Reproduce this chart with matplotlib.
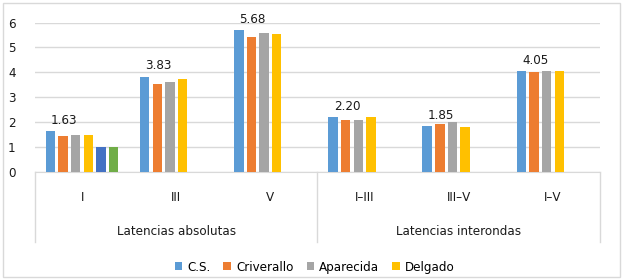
import matplotlib.pyplot as plt
from matplotlib.patches import Rectangle
from matplotlib.lines import Line2D

plt.rcParams['font.family'] = ['DejaVu Sans']
plt.rcParams['font.stretch'] = 'condensed'

categorias = ['I', 'III', 'V', 'I\u2013III', 'III\u2013V', 'I\u2013V']
grupos = ['Latencias absolutas', 'Latencias interondas']
cs = [1.63, 3.83, 5.68, 2.20, 1.85, 4.05]
criverallo = [1.43, 3.55, 5.40, 2.10, 1.92, 4.02]
aparecida = [1.48, 3.60, 5.58, 2.10, 2.00, 4.07]
delgado = [1.48, 3.72, 5.52, 2.22, 1.80, 4.05]
serie5 = [1.0, None, None, None, None, None]
serie6 = [1.0, None, None, None, None, None]

series = [cs, criverallo, aparecida, delgado, serie5, serie6]
nombres = ['C.S.', 'Criverallo', 'Aparecida', 'Delgado', None, None]
colores = ['#5B9BD5', '#ED7D31', '#A5A5A5', '#FFC000', '#4472C4', '#70AD47']

fs = 9.5
tc = '#1a1a1a'

fig = plt.figure(figsize=(6.23, 2.80), dpi=100)
ax = fig.add_axes([35/623, 108/280, 565/623, 149.5/280])

paso = 0.134
ancho = 0.10
handles = []
for k, (vals, nom, col) in enumerate(zip(series, nombres, colores)):
    xs = [i + (k - 2.5) * paso for i, v in enumerate(vals) if v is not None]
    ys = [v for v in vals if v is not None]
    b = ax.bar(xs, ys, width=ancho, color=col, zorder=3)
    if nom:
        handles.append((b, nom))

# etiquetas solo en C.S.
for i, v in enumerate(cs):
    ax.annotate(f'{v:.2f}', (i - 2.5 * paso, v), xytext=(10, 3),
                textcoords='offset points', ha='center', va='bottom',
                fontsize=fs, color=tc, annotation_clip=False)

ax.set_xlim(-0.5, 5.5)
ax.set_ylim(0, 6)
ax.set_yticks(range(7))
ax.yaxis.grid(True, color='#D9D9D9', lw=1, zorder=0)
ax.tick_params(axis='y', length=0, labelsize=fs, pad=14, labelcolor=tc)
ax.set_xticks(range(6))
ax.set_xticklabels(categorias)
ax.tick_params(axis='x', length=0, labelsize=fs, pad=14, labelcolor=tc)
for s in ['left', 'right', 'top']:
    ax.spines[s].set_visible(False)
ax.spines['bottom'].set_color('#D9D9D9')

tr = ax.get_xaxis_transform()
for xl in [-0.5, 2.5, 5.5]:
    ax.add_line(Line2D([xl, xl], [0, -0.47], transform=tr, color='#D9D9D9',
                       lw=1, clip_on=False))
ax.text(1, -0.395, grupos[0], transform=tr, ha='center', va='center',
        fontsize=fs, color=tc)
ax.text(4, -0.395, grupos[1], transform=tr, ha='center', va='center',
        fontsize=fs, color=tc)

fig.legend([h for h, n in handles], [n for h, n in handles], loc='center',
           bbox_to_anchor=(0.505, 0.046), ncol=4, frameon=False, fontsize=fs,
           handlelength=0.55, handleheight=0.55, handletextpad=0.4,
           columnspacing=1.0)

fig.patches.append(Rectangle((3/623, 3/280), 617/623, 274/280,
                             transform=fig.transFigure, fill=False,
                             edgecolor='#D9D9D9', lw=1))

fig.savefig('out.png', dpi=100)
